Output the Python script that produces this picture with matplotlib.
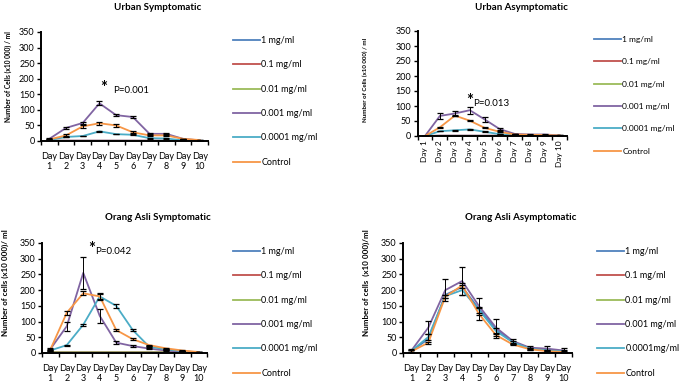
#!/usr/bin/env python3
import matplotlib
matplotlib.use("Agg")
import matplotlib.pyplot as plt
import numpy as np

plt.rcParams['font.family'] = ['Lato', 'DejaVu Sans']

days = ["1", "2", "3", "4", "5", "6", "7", "8", "9", "10"]
labels = ["1 mg/ml", "0.1 mg/ml", "0.01 mg/ml", "0.001 mg/ml", "0.0001 mg/ml", "Control"]
labels_oa_asym = ["1 mg/ml", "0.1 mg/ml", "0.01 mg/ml", "0.001 mg/ml", "0.0001mg/ml", "Control"]
colors = ['#4F81BD', '#C0504D', '#9BBB59', '#8064A2', '#4BACC6', '#F79646']

# rows: 1, 0.1, 0.01, 0.001, 0.0001 mg/ml, control
urban_sym_vals = [
    [1, 1, 1, 1, 1, 1, 1, 1, 0, 0],
    [1, 1, 1, 1, 1, 1, 1, 1, 0, 0],
    [0, 0, 0, 0, 0, 0, 0, 0, 0, 0],
    [7, 42, 58, 121, 83, 77, 23, 23, 7, 2],
    [3, 13, 16, 31, 22, 20, 9, 8, 2, 1],
    [5, 18, 47, 57, 50, 28, 18, 18, 7, 3],
]
urban_sym_err = [
    [0] * 10, [0] * 10, [0] * 10,
    [2, 2, 3, 7, 3, 4, 3, 3, 1, 1],
    [1, 1, 1, 2, 1, 1, 1, 1, 0, 0],
    [2, 3, 5, 5, 5, 3, 3, 3, 1, 1],
]

urban_asym_vals = [
    [0, 1, 1, 1, 1, 1, 1, 1, 1, 0],
    [0, 1, 1, 1, 1, 1, 1, 1, 1, 0],
    [0, 0, 0, 0, 0, 0, 0, 0, 0, 0],
    [0, 67, 75, 86, 55, 23, 7, 5, 5, 2],
    [0, 16, 19, 22, 14, 6, 3, 2, 1, 1],
    [0, 29, 68, 51, 27, 14, 5, 4, 3, 2],
]
urban_asym_err = [
    [0] * 10, [0] * 10, [0] * 10,
    [0, 10, 9, 12, 8, 4, 1, 1, 1, 1],
    [0, 1, 1, 1, 1, 1, 0, 0, 0, 0],
    [0, 2, 2, 2, 2, 1, 0, 0, 0, 0],
]

orang_sym_vals = [
    [2, 2, 2, 2, 2, 2, 2, 2, 1, 1],
    [2, 2, 2, 2, 2, 2, 2, 2, 1, 1],
    [2, 2, 2, 2, 2, 2, 2, 2, 1, 1],
    [12, 85, 255, 118, 33, 22, 14, 8, 4, 2],
    [8, 25, 90, 180, 150, 73, 20, 12, 6, 2],
    [10, 128, 190, 180, 73, 44, 25, 15, 8, 3],
]
orang_sym_err = [
    [0] * 10, [0] * 10, [0] * 10,
    [3, 15, 52, 23, 5, 3, 2, 1, 1, 0],
    [2, 2, 3, 10, 6, 4, 2, 1, 1, 0],
    [3, 7, 7, 8, 4, 3, 2, 1, 1, 0],
]

orang_asym_vals = [
    [6, 45, 185, 210, 140, 75, 35, 15, 9, 5],
    [0, 0, 0, 0, 0, 0, 0, 0, 0, 0],
    [0, 0, 0, 0, 0, 0, 0, 0, 0, 0],
    [8, 81, 200, 229, 149, 81, 38, 17, 14, 8],
    [7, 51, 181, 200, 137, 70, 34, 14, 8, 5],
    [5, 33, 179, 215, 124, 57, 27, 12, 6, 3],
]
orang_asym_err = [
    [0] * 10, [0] * 10, [0] * 10,
    [5, 20, 35, 45, 27, 27, 5, 5, 7, 8],
    [3, 10, 5, 15, 10, 10, 4, 3, 3, 3],
    [3, 3, 5, 8, 20, 8, 3, 3, 3, 3],
]

W, H = 680.0, 382.0


def px_rect(left, top, right, bottom):
    return [left / W, 1 - bottom / H, (right - left) / W, (bottom - top) / H]


def draw_panel(fig, rect, vals, errs, title, title_xy, ylabel, ylabel_xy, ylabel_size,
               leg_xy, leg_labels, leg_size=6.5, rotated=False):
    ax = fig.add_axes(rect)
    x = np.arange(len(days))
    handles = []
    for v, e, c, lab in zip(vals, errs, colors, leg_labels):
        h, = ax.plot(x, v, color=c, lw=1.3, label=lab, zorder=2)
        handles.append(h)
        if any(e):
            ax.errorbar(x, v, yerr=e, fmt='none', ecolor='black', elinewidth=0.7,
                        capsize=2.5, capthick=0.9, zorder=3)
    ax.set_xlim(-0.5, len(days) - 0.5)
    ax.set_ylim(0, 350)
    ax.set_yticks(np.arange(0, 351, 50))
    ax.set_xticks(x)
    ax.set_xticks(np.arange(-0.5, len(days)), minor=True)
    if rotated:
        ax.set_xticklabels(["Day " + d for d in days], rotation=90, fontsize=6)
        ax.tick_params(axis='x', which='major', length=0, pad=3)
    else:
        ax.set_xticklabels(["Day\n" + d for d in days], fontsize=6.5, linespacing=1.15)
        ax.tick_params(axis='x', which='major', length=0, pad=8)
    ax.tick_params(axis='x', which='minor', length=3, width=1, direction='out')
    ax.tick_params(axis='y', length=3, width=1, direction='out', labelsize=6.5, pad=1.5)
    for s in ['top', 'right']:
        ax.spines[s].set_visible(False)
    for s in ['left', 'bottom']:
        ax.spines[s].set_linewidth(1.4)
    ax.patch.set_alpha(0)

    fig.text(title_xy[0] / W, 1 - title_xy[1] / H, title, ha='center', va='center',
             fontsize=7, fontweight='bold')
    fig.text(ylabel_xy[0] / W, 1 - ylabel_xy[1] / H, ylabel, ha='center', va='center',
             rotation=90, fontsize=ylabel_size, fontweight='bold')
    fig.legend(handles=handles, loc='upper left',
               bbox_to_anchor=(leg_xy[0] / W, 1 - leg_xy[1] / H),
               frameon=False, fontsize=leg_size, handlelength=27 / (leg_size * 1.389),
               handletextpad=0.15, labelspacing=1.7 * 6.5 / leg_size,
               borderpad=0, borderaxespad=0)
    return ax


fig = plt.figure(figsize=(6.8, 3.82), dpi=100)

ax1 = draw_panel(fig, px_rect(41, 32, 208, 141), urban_sym_vals, urban_sym_err,
                 "Urban Symptomatic", (158, 7),
                 "Number of Cells (x10 000) / ml", (8, 77), 4.8,
                 (233, 36), labels)
ax1.text(3.25, 170, "*", fontsize=12, fontweight='bold', ha='center', va='center')
ax1.text(3.8, 162, "P=0.001", fontsize=7, ha='left', va='center')

ax2 = draw_panel(fig, px_rect(417.5, 31, 567, 136), urban_asym_vals, urban_asym_err,
                 "Urban Asymptomatic", (521, 7),
                 "Number of Cells (x10 000) / ml", (365, 80), 4.4,
                 (594, 36), labels, leg_size=6.0, rotated=True)
ax2.text(3.0, 118, "*", fontsize=12, fontweight='bold', ha='center', va='center')
ax2.text(3.2, 110, "P=0.013", fontsize=7, ha='left', va='center')

ax3 = draw_panel(fig, px_rect(42, 243, 207, 353), orang_sym_vals, orang_sym_err,
                 "Orang Asli Symptomatic", (158, 217),
                 "Number of cells (x10 000)/ ml", (5, 283), 5.8,
                 (233, 247), labels)
ax3.text(2.5, 330, "*", fontsize=12, fontweight='bold', ha='center', va='center')
ax3.text(2.7, 322, "P=0.042", fontsize=7, ha='left', va='center')

draw_panel(fig, px_rect(403, 243, 572, 353), orang_asym_vals, orang_asym_err,
           "Orang Asli Asymptomatic", (521, 217),
           "Number of cells  (x10 000)/ml", (366, 283), 5.8,
           (597, 247), labels_oa_asym)

fig.savefig("out.png", dpi=100)
